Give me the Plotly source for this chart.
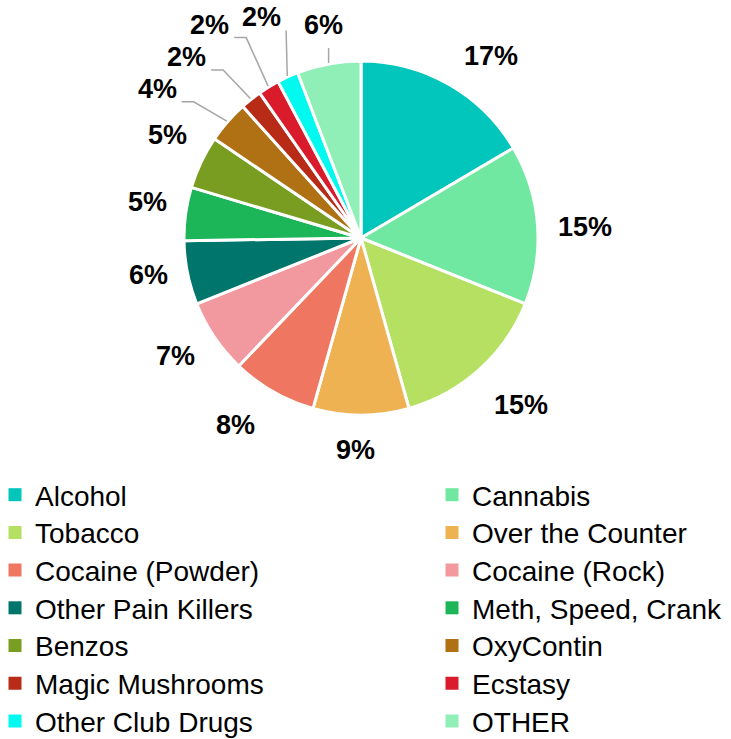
import math
import plotly.graph_objects as go

# Share of respondents by substance (percent)
substances = [
    "Alcohol", "Cannabis", "Tobacco", "Over the Counter", "Cocaine (Powder)",
    "Cocaine (Rock)", "Other Pain Killers", "Meth, Speed, Crank", "Benzos",
    "OxyContin", "Magic Mushrooms", "Ecstasy", "Other Club Drugs", "OTHER",
]
shares = [17, 15, 15, 9, 8, 7, 6, 5, 5, 4, 2, 2, 2, 6]
colors = [
    "#02C5BB", "#70E8A1", "#B6E062", "#EFB253", "#EF7762",
    "#F2989F", "#00756B", "#1CB558", "#789D21",
    "#B07014", "#B72B17", "#DA1B2B", "#02F9F0", "#8FEFB7",
]

# --- layout settings (pixels) ---
W, H = 731, 739
cx, cy, r = 361, 238, 177          # pie centre and radius
label_size = 27
legend_size = 28
label_gap = 24                     # space between rim and label box
# per-label placement: (angle shift in degrees, extra radius px, leader line)
label_nudge = [
    (5.7, -2, False),
    (1.6, -4.5, False),
    (-1.8, 3.4, False),
    (1.6, 0, False),
    (4.1, 4, False),
    (1.7, -3.4, False),
    (1.5, -6, False),
    (1.7, -6, False),
    (2.7, -4.4, False),
    (-5.6, 27, True),
    (-6.1, 26, True),
    (-4.4, 37, True),
    (-0.1, 20, True),
    (0.4, -2, True),
]
legend_top = 495                   # centre of the first legend row
legend_step = 37.7                 # row pitch
legend_cols = [-5, 432]            # left edge of each legend column


def px(x):
    return x / W


def py(y):
    return 1 - y / H


fig = go.Figure()

fig.add_trace(
    go.Pie(
        labels=substances,
        values=shares,
        sort=False,
        direction="clockwise",
        rotation=0,
        marker=dict(colors=colors, line=dict(color="white", width=3)),
        textinfo="none",
        domain=dict(x=[px(cx - r), px(cx + r)], y=[py(cy + r), py(cy - r)]),
        showlegend=False,
        hoverinfo="label+percent",
    )
)

# Percentage labels placed around the rim from each slice's mid-angle
total = sum(shares)
cum = 0.0
for i, v in enumerate(shares):
    mid = (cum + v / 2) / total * 360.0
    cum += v
    dtheta, extra, leader = label_nudge[i]
    theta = math.radians(mid + dtheta)
    ux, uy = math.sin(theta), -math.cos(theta)
    text = f"{v}%"
    bw = label_size * (0.556 * (len(text) - 1) + 0.889)
    bh = 22
    d = r + label_gap + abs(ux) * bw / 2 + abs(uy) * bh / 2 + extra
    lx, ly = cx + ux * d, cy + uy * d
    fig.add_annotation(
        x=px(lx), y=py(ly - (3.5 if leader else 0)), xref="paper", yref="paper",
        text=f"<b>{text}</b>", showarrow=False,
        font=dict(family="Liberation Sans", size=label_size, color="#000000"),
        xanchor="center", yanchor="middle",
    )
    if leader:
        m = math.radians(mid)
        ax, ay = cx + math.sin(m) * (r + 1), cy - math.cos(m) * (r + 1)
        right = lx + bw / 2
        if ax - right > 20:
            xs = [right + 5, right + 17, ax]
            ys = [ly + 9, ly + 9, ay]
        elif ax > right:
            xs = [right + 5, ax]
            ys = [ly + 10, ay]
        else:
            xs = [ax, ax]
            ys = [ly + bh / 2 + 9, ay]
        path = "M " + " L ".join(f"{px(a)},{py(b)}" for a, b in zip(xs, ys))
        fig.add_shape(
            type="path", path=path, xref="paper", yref="paper",
            line=dict(color="#A6A6A6", width=1.5),
        )

# Two-column legend, one legend box per entry so rows sit on a fixed pitch
legends = {}
for i, (name, c) in enumerate(zip(substances, colors)):
    key = "legend" if i == 0 else f"legend{i + 1}"
    row, col = divmod(i, 2)
    fig.add_trace(
        go.Scatter(
            x=[None], y=[None], mode="markers", name=name,
            marker=dict(symbol="square", size=13, color=c),
            legend=key,
            hoverinfo="skip",
        )
    )
    legends[key] = dict(
        orientation="v",
        xanchor="left",
        yanchor="middle",
        x=px(legend_cols[col]),
        y=py(legend_top + row * legend_step),
        bgcolor="rgba(0,0,0,0)",
        font=dict(family="Liberation Sans", size=legend_size, color="#000000"),
        itemclick=False,
        itemdoubleclick=False,
    )

fig.update_layout(
    width=W,
    height=H,
    margin=dict(l=0, r=0, t=0, b=0, autoexpand=False),
    paper_bgcolor="white",
    plot_bgcolor="white",
    xaxis=dict(visible=False),
    yaxis=dict(visible=False),
    showlegend=True,
    **legends,
)

fig.write_html("out.html")
